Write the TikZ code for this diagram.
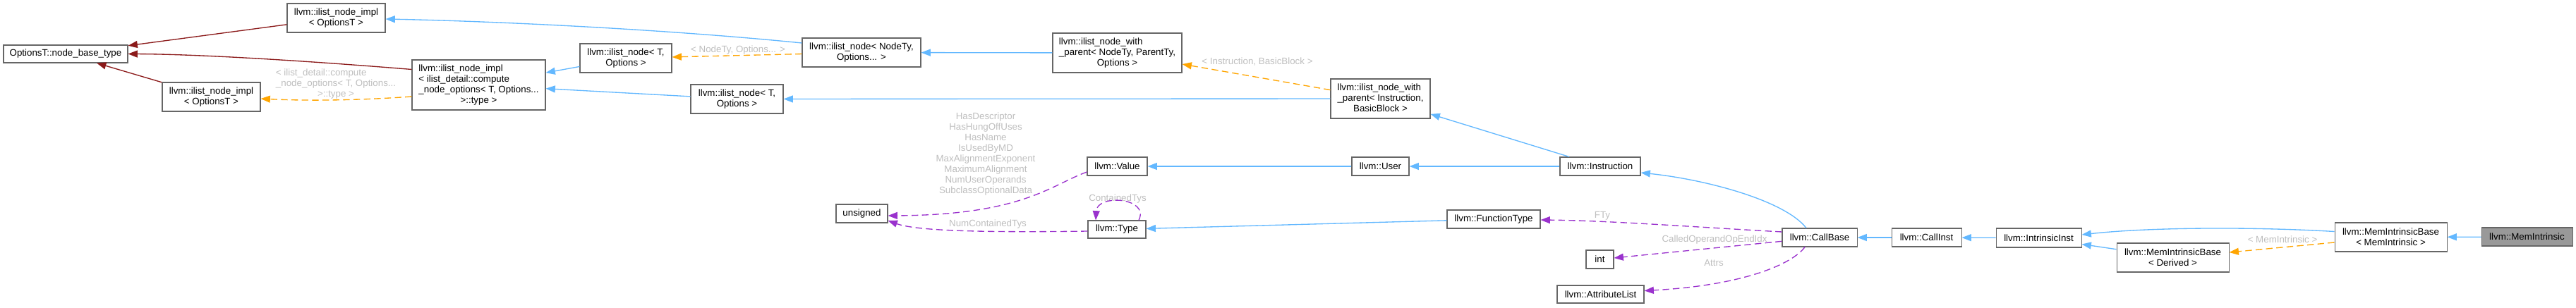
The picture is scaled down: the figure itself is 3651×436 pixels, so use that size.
\documentclass[tikz,border=0pt]{standalone}
\usepackage{fontspec}
\setmainfont{Liberation Sans}
\usetikzlibrary{arrows.meta,calc}
\tikzset{>={Triangle[length=10pt,width=7.5pt]}}
\definecolor{steelblue}{HTML}{63B8FF}
\definecolor{firebrick}{HTML}{8B1A1A}
\definecolor{orchid}{HTML}{9A32CD}
\definecolor{tmplorange}{HTML}{FFA500}
\definecolor{boxgray}{HTML}{666666}
\definecolor{labelgray}{HTML}{BEBEBE}
\definecolor{maingray}{HTML}{999999}

\begin{document}
\begin{tikzpicture}[x=0.75pt,y=-0.75pt,
  cls/.style={draw=boxgray,line width=0.8pt,fill=white,inner sep=1pt,
    font=\fontsize{10pt}{11.25pt}\selectfont,align=center},
  sz/.style 2 args={minimum width=#1*0.75pt,minimum height=#2*0.75pt},
  lbl/.style={text=labelgray,inner sep=0pt,font=\fontsize{10pt}{11.25pt}\selectfont,align=center},
  inh/.style={->,steelblue,line width=1pt},
  priv/.style={->,firebrick,line width=1pt},
  usage/.style={->,orchid,line width=1pt,dash pattern=on 7pt off 4pt},
  tmpl/.style={->,tmplorange,line width=1pt,dash pattern=on 7pt off 4pt}]
  \useasboundingbox (0,0) rectangle (3651,436);

  % List node bases
  \node[cls,sz={176}{25}] (base) at (93,76.5) {OptionsT::node\_base\_type};
  \node[cls,sz={139}{41}] (implA) at (476.5,25.5) {llvm::ilist\_node\_impl\\< OptionsT >};
  \node[cls,sz={139}{41}] (implB) at (299.5,137.5) {llvm::ilist\_node\_impl\\< OptionsT >};
  \node[cls,sz={189}{71}] (implC) at (678.5,120.5) {\begin{tabular}{@{}l@{}}llvm::ilist\_node\_impl\\< ilist\_detail::compute\\\_node\_options< T, Options...\\\multicolumn{1}{@{}c@{}}{>::type >}\end{tabular}};
  \node[cls,sz={130}{41}] (nodeTO) at (887,82.5) {llvm::ilist\_node< T,\\Options >};
  \node[cls,sz={168}{41}] (nodeNT) at (1221,74.5) {llvm::ilist\_node< NodeTy,\\Options... >};
  \node[cls,sz={131}{41}] (nodeTI) at (1044.5,140.5) {llvm::ilist\_node< T,\\Options >};
  \node[cls,sz={183}{56}] (wpA) at (1583.5,75) {\begin{tabular}{@{}l@{}}llvm::ilist\_node\_with\\\_parent< NodeTy, ParentTy,\\\multicolumn{1}{@{}c@{}}{Options >}\end{tabular}};
  \node[cls,sz={141}{56}] (wpB) at (1956.5,140) {\begin{tabular}{@{}l@{}}llvm::ilist\_node\_with\\\_parent< Instruction,\\\multicolumn{1}{@{}c@{}}{BasicBlock >}\end{tabular}};

  % Values and types
  \node[cls,sz={73}{26}] (unsigned) at (1221.5,303) {unsigned};
  \node[cls,sz={85}{26}] (value) at (1583.5,236) {llvm::Value};
  \node[cls,sz={81}{26}] (user) at (1956.5,236) {llvm::User};
  \node[cls,sz={114}{26}] (instr) at (2268,236) {llvm::Instruction};
  \node[cls,sz={82}{25}] (type) at (1583,325.5) {llvm::Type};
  \node[cls,sz={132}{26}] (ftype) at (2117,311) {llvm::FunctionType};
  \node[cls,sz={39}{26}] (int) at (2267.5,368) {int};
  \node[cls,sz={123}{25}] (attrl) at (2268.5,417.5) {llvm::AttributeList};

  % Calls
  \node[cls,sz={106}{26}] (callbase) at (2579,337) {llvm::CallBase};
  \node[cls,sz={99}{26}] (callinst) at (2730.5,337) {llvm::CallInst};
  \node[cls,sz={121}{27}] (intrinsic) at (2889.5,337.5) {llvm::IntrinsicInst};
  \node[cls,sz={159}{41}] (mibD) at (3079.5,365.5) {llvm::MemIntrinsicBase\\< Derived >};
  \node[cls,sz={159}{41}] (mibM) at (3388.5,336.5) {llvm::MemIntrinsicBase\\< MemIntrinsic >};
  \node[cls,sz={129}{26},fill=maingray] (memi) at (3581.5,336) {llvm::MemIntrinsic};

  % Edge labels
  \node[lbl] (lblB) at (476,119) {\begin{tabular}{@{}l@{}}< ilist\_detail::compute\\\_node\_options< T, Options...\\\multicolumn{1}{@{}c@{}}{>::type >}\end{tabular}};
  \node[lbl] (lblNT) at (1046,71) {< NodeTy, Options... >};
  \node[lbl] (lblWP) at (1782,88) {< Instruction, BasicBlock >};
  \node[lbl] (lblVal) at (1397,219) {HasDescriptor\\HasHungOffUses\\HasName\\IsUsedByMD\\MaxAlignmentExponent\\MaximumAlignment\\NumUserOperands\\SubclassOptionalData};
  \node[lbl] (lblNum) at (1400,318) {NumContainedTys};
  \node[lbl] (lblCT) at (1584,282) {ContainedTys};
  \node[lbl] (lblFTy) at (2271,306) {FTy};
  \node[lbl] (lblCO) at (2430,340) {CalledOperandOpEndIdx};
  \node[lbl] (lblAt) at (2429,373) {Attrs};
  \node[lbl] (lblMI) at (3235,340) {< MemIntrinsic >};

  % Private bases
  \draw[priv] (implA) -- (base);
  \draw[priv] ($(implC.west)+(0,-22)$) .. controls (480,90) and (300,77) .. (base.east);
  \draw[priv] (implB) -- (base);

  % Inheritance
  \draw[inh] (nodeTO) -- (implC);
  \draw[inh] (nodeTI) -- (implC);
  \draw[inh] ($(nodeNT.west)+(0,-13.5)$) .. controls (937,41) and (696,30) .. ($(implA.east)+(0,1.5)$);
  \draw[inh] (wpA) -- (nodeNT);
  \draw[inh] (wpB) -- (nodeTI);
  \draw[inh] (instr) -- (wpB);
  \draw[inh] (user) -- (value);
  \draw[inh] (instr) -- (user);
  \draw[inh] ($(callbase.north)+(-19,0)$) .. controls (2530,285) and (2420,255) .. ($(instr.east)+(0,9)$);
  \draw[inh] (ftype) -- (type);
  \draw[inh] (callinst) -- (callbase);
  \draw[inh] (intrinsic) -- (callinst);
  \draw[inh] ($(mibM.west)+(0,-8)$) .. controls (3200,322) and (3050,322) .. ($(intrinsic.east)+(0,-4.5)$);
  \draw[inh] (mibD) -- (intrinsic);
  \draw[inh] (memi) -- (mibM);

  % Template instances
  \draw[tmpl] ($(implC.west)+(0,16.5)$) .. controls (500,143) and (430,143) .. ($(implB.east)+(0,2.5)$);
  \draw[tmpl] (nodeNT) -- (nodeTO);
  \draw[tmpl] (wpB) -- (wpA);
  \draw[tmpl] (mibM) -- (mibD);

  % Members
  \draw[usage] ($(value.west)+(0,8)$) .. controls (1490,262) and (1450,305) .. ($(unsigned.east)+(0,3)$);
  \draw[usage] ($(type.west)+(0,2.5)$) .. controls (1400,330) and (1300,328) .. ($(unsigned.east)+(0,10)$);
  \draw[usage] ($(type.north)+(31,0)$) .. controls (1630,280) and (1555,275) .. ($(type.north)+(-30,0)$);
  \draw[usage] ($(callbase.west)+(0,-8)$) .. controls (2400,322) and (2280,313) .. ($(ftype.east)+(0,1)$);
  \draw[usage] (callbase) -- (int);
  \draw[usage] ($(callbase.south)+(-21,0)$) .. controls (2540,375) and (2470,405) .. ($(attrl.east)+(0,-5)$);
\end{tikzpicture}
\end{document}
